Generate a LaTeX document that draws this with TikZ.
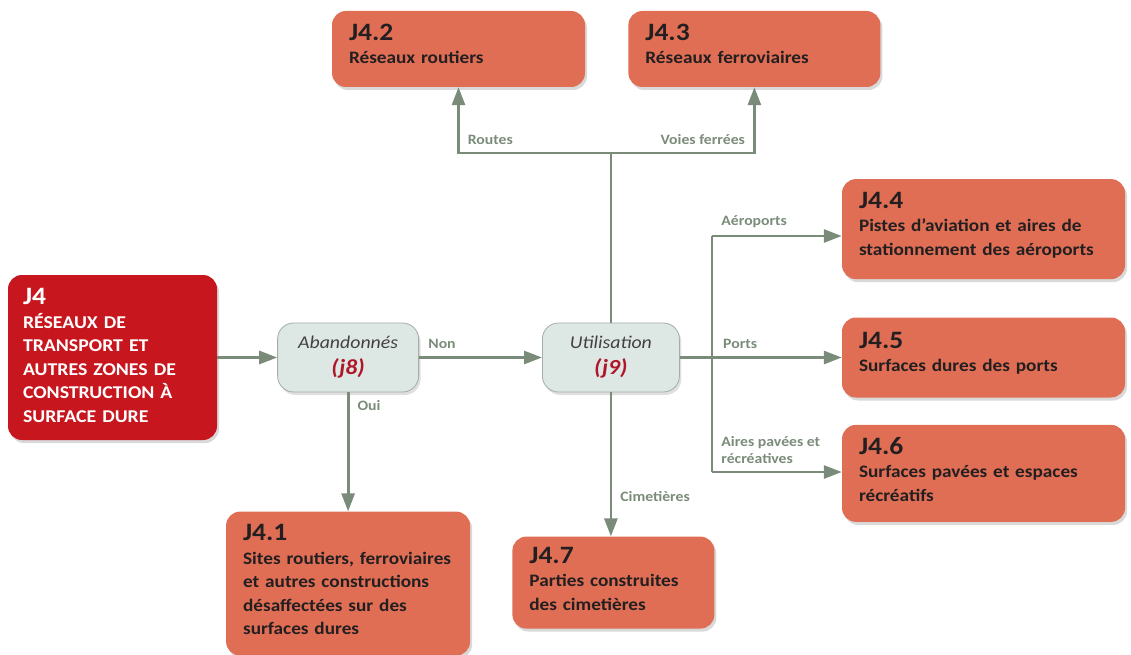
\documentclass[tikz,border=0pt]{standalone}
\usepackage{fontspec}
\setmainfont{Carlito}[FakeStretch=1.1]
\usetikzlibrary{positioning,arrows.meta,shadows}
\definecolor{clsfill}{HTML}{E06E55}
\definecolor{rootfill}{HTML}{C8161E}
\definecolor{decfill}{HTML}{DDE7E3}
\definecolor{decline}{HTML}{A3ACA7}
\definecolor{linkgreen}{HTML}{7A8C79}
\definecolor{ink}{HTML}{231F20}
\definecolor{codered}{HTML}{B0162A}
\tikzset{
  cls/.style  ={rounded corners=14pt,fill=clsfill,text=ink,align=left,inner xsep=17pt,inner ysep=6pt,
                font=\fontsize{17.5}{23.5}\selectfont\bfseries,
                drop shadow={shadow xshift=2pt,shadow yshift=-3pt,opacity=.3}},
  root/.style ={cls,fill=rootfill,text=white,inner xsep=15pt,
                font=\fontsize{18}{23.5}\selectfont\bfseries},
  dec/.style  ={rounded corners=16pt,draw=decline,fill=decfill,line width=0.8pt,align=center,
                minimum height=69pt,font=\fontsize{18}{26}\selectfont\itshape,text=ink!85,
                drop shadow={shadow xshift=2pt,shadow yshift=-3pt,opacity=.25}},
  arr/.style  ={-{Triangle[length=18pt,width=13pt]},line width=2.8pt,draw=linkgreen},
  link/.style ={line width=2.8pt,draw=linkgreen},
  lbl/.style  ={font=\fontsize{14.3}{17}\selectfont\bfseries,text=linkgreen,inner xsep=8pt,inner ysep=7pt,align=left},
}
\newcommand{\code}[1]{{\fontsize{25}{24}\selectfont #1}\\}
\newcommand{\jref}[1]{\\{\fontsize{21.5}{24}\selectfont\bfseries\color{codered}#1}}
\newcommand{\pad}[1]{\par\vspace{#1}}

\begin{document}
\begin{tikzpicture}[x=1pt,y=1pt]
  \useasboundingbox (0,0) rectangle (1131,-655);
  \node[root,minimum width=209pt,minimum height=165pt,text width=179pt] (j4) at (112.5,-357.5)
    {\code{J4}RÉSEAUX DE\\TRANSPORT ET\\AUTRES ZONES DE\\CONSTRUCTION À\\SURFACE DURE\pad{4pt}};
  \node[dec,minimum width=141pt,right=60pt of j4] (ab) {Abandonnés\jref{(j8)}};
  \node[dec,minimum width=137pt,right=123pt of ab] (ut) {Utilisation\jref{(j9)}};

  \node[cls,minimum width=283pt,minimum height=80pt,text width=249pt,right=162pt of ut] (j45)
    {\code{J4.5}Surfaces dures des ports\pad{8pt}};
  \node[cls,minimum width=283pt,minimum height=100pt,text width=249pt,above=38pt of j45] (j44)
    {\code{J4.4}Pistes d’aviation et aires de\\stationnement des aéroports\pad{8pt}};
  \node[cls,minimum width=283pt,minimum height=97pt,text width=249pt,below=27pt of j45] (j46)
    {\code{J4.6}Surfaces pavées et espaces\\récréatifs\pad{8pt}};
  \node[cls,minimum width=253pt,minimum height=76pt,text width=219pt] (j42) at (458.5,-49)
    {\code{J4.2}Réseaux routiers\pad{10pt}};
  \node[cls,minimum width=252pt,minimum height=76pt,text width=218pt,right=43pt of j42] (j43)
    {\code{J4.3}Réseaux ferroviaires\pad{10pt}};
  \node[cls,minimum width=244pt,minimum height=144pt,text width=210pt,below=119pt of ab] (j41)
    {\code{J4.1}Sites routiers, ferroviaires\\et autres constructions\\désaffectées sur des\\surfaces dures\pad{8pt}};
  \node[cls,minimum width=202pt,minimum height=92pt,text width=168pt,below=144pt of ut,xshift=2.5pt] (j47)
    {\code{J4.7}Parties construites\\des cimetières\pad{8pt}};

  \coordinate (split) at (ut |- 0,-153);
  \coordinate (bus) at (712,-357.5);
  \coordinate (air) at (712,-236);
  \coordinate (pave) at (712,-472);

  \draw[arr] (j4) -- (ab);
  \draw[arr] (ab) -- node[lbl,pos=0,above right]{Non} (ut);
  \draw[arr] (ab) -- node[lbl,pos=0,below right]{Oui} (j41);
  \draw[link] (ut) -- (split);
  \draw[arr] (split) -| node[lbl,pos=0.5,above right]{Routes} (j42);
  \draw[arr] (split) -| node[lbl,pos=0.5,above left]{Voies ferrées} (j43);
  \draw[arr] (ut.south) -- node[lbl,pos=0.72,right]{Cimetières} (ut.south |- j47.north);
  \draw[arr] (ut) -- node[lbl,pos=0.21,above right]{Ports} (j45);
  \draw[link] (air) -- (pave);
  \draw[arr] (air) -- node[lbl,pos=0,above right]{Aéroports} (air -| j44.west);
  \draw[arr] (pave) -- node[lbl,pos=0,above right]{Aires pavées et\\récréatives} (pave -| j46.west);
\end{tikzpicture}
\end{document}
